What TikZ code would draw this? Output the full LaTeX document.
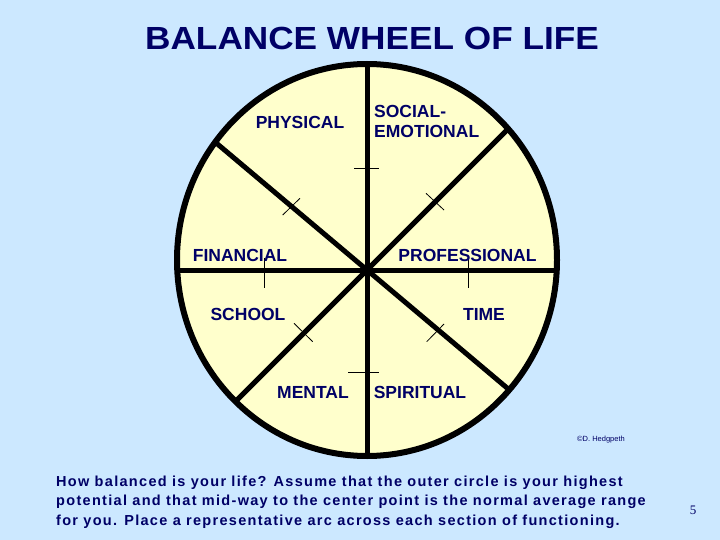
\documentclass[tikz,border=0pt]{standalone}
\usepackage{fontspec}
\setmainfont{Liberation Sans}
\newfontfamily\bodyfont[LetterSpace=9]{Liberation Sans}
\newfontfamily\numfont{Liberation Serif}
\definecolor{bg}{RGB}{204,232,255}
\definecolor{wheel}{RGB}{255,255,204}
\definecolor{navy}{RGB}{0,0,102}
\begin{document}
\begin{tikzpicture}[x=1pt,y=-1pt,
  lab/.style={font=\fontsize{17.5}{20}\selectfont\bfseries, text=navy, inner sep=0pt},
  body/.style={font=\bodyfont\fontsize{14.5}{19.5}\selectfont\bfseries, text=navy, inner sep=0pt, anchor=base west},
  spoke/.style={line width=5pt},
  tick/.style={line width=0.8pt}]
\fill[bg] (0,0) rectangle (720,540);
\useasboundingbox (0,0) rectangle (720,540);
\coordinate (c) at (367,270);
\fill[wheel] (367,260) ellipse [x radius=190, y radius=196];
\begin{scope}
  \clip (367,260) ellipse [x radius=190, y radius=196];
  \draw[spoke] (c) -- ++(0,-260) (c) -- ++(0,260) (c) -- ++(-260,0) (c) -- ++(260,0);
  \draw[spoke] (c) -- ++(260,-260) (c) -- ++(-260,260);
  \draw[spoke] (c) -- ++(-260,-219) (c) -- ++(260,219);
\end{scope}
\draw[line width=6pt] (367,260) ellipse [x radius=190, y radius=196];
% ticks
\draw[tick] (354,168) -- (379,168);
\draw[tick] (348,372.5) -- (379,372.5);
\draw[tick] (264,258) -- (264,288);
\draw[tick] (468,258) -- (468,288);
\draw[tick] (282.7,215) -- (300,198.3);
\draw[tick] (426,193.3) -- (444,210);
\draw[tick] (294,323.3) -- (312.7,341.7);
\draw[tick] (426.7,341.7) -- (444,324);
% title
\node[font=\fontsize{32}{36}\selectfont\bfseries, text=navy, inner sep=0pt, anchor=base] (title) at (372,49.5) {\scalebox{1.1}[1]{BALANCE WHEEL OF LIFE}};
% labels
\node[lab] (phys) at (300,122.5) {PHYSICAL};
\node[lab, anchor=west] (soc1) at (374,111) {SOCIAL-};
\node[lab, anchor=west] (soc2) at (374,131.5) {EMOTIONAL};
\node[lab] (fin) at (240,255) {FINANCIAL};
\node[lab] (prof) at (467.5,255) {PROFESSIONAL};
\node[lab] (school) at (248,314.5) {SCHOOL};
\node[lab] (time) at (484,314.5) {TIME};
\node[lab] (ment) at (313,392) {MENTAL};
\node[lab] (spir) at (420,392) {SPIRITUAL};
% copyright
\node[font=\fontsize{7.5}{9}\selectfont, text=navy, inner sep=0pt, anchor=west] (copy) at (577,440) {\textcopyright D. Hedgpeth};
% bottom text
\node[body] (l1) at (56,486) {How balanced is your life? Assume that the outer circle is your highest};
\node[body] (l2) at (56,505.5) {potential and that mid-way to the center point is the normal average range};
\node[body] (l3) at (56,525) {for you. Place a representative arc across each section of functioning.};
\node[font=\numfont\fontsize{13}{15}\selectfont, text=navy, inner sep=0pt] (num) at (693,510) {5};
\end{tikzpicture}
\end{document}
